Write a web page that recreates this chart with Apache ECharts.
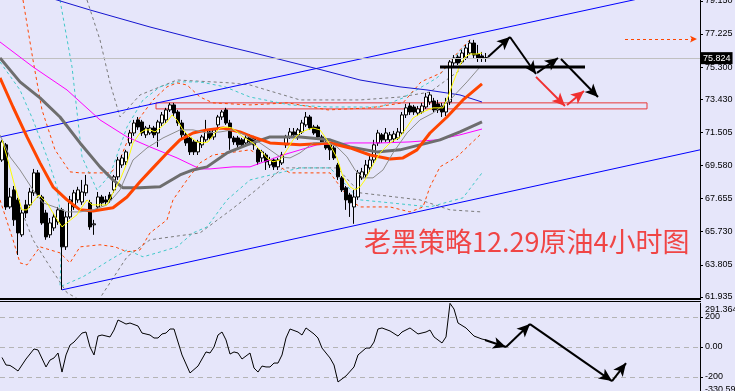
<!DOCTYPE html>
<html><head><meta charset="utf-8">
<script src="https://cdn.jsdelivr.net/npm/echarts@6/dist/echarts.min.js"></script>
<style>html,body{margin:0;padding:0;background:#E6E6FA;}#c{width:735px;height:391px;}</style>
</head><body><div id="c"></div>
<script>
// ---------- DATA ----------
const slots = 175; // bar slots across the chart (future slots empty)
const categories = Array.from({length: slots}, (_, i) => 'B' + i);
const openP = [69.90,70.78,67.17,68.16,67.58,65.55,67.29,67.29,67.99,69.15,
67.75,66.82,65.55,65.95,66.30,67.00,64.85,66.59,67.17,67.58,
67.46,67.99,67.41,66.13,67.17,67.75,67.58,67.87,68.16,68.92,
69.61,69.79,70.89,71.47,72.23,72.11,71.36,71.47,71.76,71.47,
72.05,72.23,72.81,73.10,72.69,72.05,71.36,71.18,70.95,70.37,
70.78,71.07,71.53,71.24,71.94,72.40,72.81,72.05,71.18,71.18,
71.07,70.89,71.24,71.18,70.49,70.02,70.19,69.61,69.90,69.50,
69.73,70.78,71.24,71.53,71.36,71.53,71.94,72.40,71.82,71.82,
71.24,70.89,70.78,70.60,69.61,68.86,68.28,67.87,67.17,67.75,
68.86,69.03,69.44,69.90,70.89,71.36,71.07,71.07,71.12,71.18,
71.47,72.52,73.04,72.98,72.63,72.69,72.98,73.27,73.33,73.16,
73.04,72.69,73.27,75.54,75.89,75.60,75.83,76.12,76.70,76.06,
75.95,75.85];
const closeP = [70.95,67.17,67.75,66.42,65.66,66.82,66.82,68.04,69.15,67.87,
66.24,65.43,66.24,66.59,67.00,64.85,66.59,67.58,67.99,68.16,
68.04,68.45,66.01,66.19,67.75,67.41,67.46,67.58,68.92,69.90,
70.02,70.37,71.47,72.05,71.82,71.47,71.76,71.76,71.36,72.11,
72.52,72.81,73.10,72.63,72.05,71.36,70.89,70.37,70.37,70.95,
71.24,71.65,71.18,71.65,72.40,72.69,72.05,71.18,70.95,70.78,
70.78,71.18,70.95,70.78,69.79,70.37,69.79,69.90,69.50,69.90,
70.19,71.24,71.53,71.36,71.65,72.05,72.40,71.76,71.47,71.24,
70.89,70.60,70.49,70.02,68.92,68.16,67.58,67.41,67.75,69.15,
69.21,69.61,69.90,70.78,71.47,71.07,71.47,71.36,71.41,71.53,
72.52,72.93,72.69,72.69,72.87,73.04,73.56,73.68,72.81,72.81,
72.69,73.22,75.60,75.83,75.54,76.12,76.41,76.70,76.00,75.83,
75.83,75.824];
const highP = [71.07,70.89,68.28,68.39,67.70,67.00,67.58,68.28,69.38,69.32,
67.87,67.00,66.53,66.82,67.17,67.12,66.88,67.81,68.16,68.34,
68.74,69.03,67.58,66.42,68.04,67.87,67.81,68.04,69.03,70.08,
70.19,70.49,71.65,72.23,72.40,72.23,71.88,71.94,71.88,72.23,
72.69,72.93,73.22,73.22,72.81,72.23,71.53,71.36,71.07,71.07,
71.36,72.23,71.65,71.76,72.52,72.81,72.93,72.23,71.30,71.30,
71.18,71.36,71.41,71.30,70.60,70.49,70.31,70.08,70.02,70.02,
70.37,71.36,71.76,71.76,71.76,72.23,72.69,72.52,71.94,71.94,
71.36,71.01,70.89,70.72,69.73,68.97,68.39,67.99,68.16,69.32,
69.44,69.90,70.19,71.07,71.65,71.47,71.76,71.53,71.59,71.76,
72.69,73.16,73.22,73.10,73.04,73.22,73.80,73.85,73.51,73.39,
73.22,73.51,75.71,76.00,76.00,76.30,76.59,76.88,76.88,76.59,
76.18,76.12];
const lowP = [69.79,67.00,67.06,66.07,64.38,65.43,66.53,67.12,67.81,67.70,
66.13,65.26,65.37,65.78,66.13,62.35,64.67,66.48,67.00,67.41,
67.29,67.81,65.84,65.55,67.00,67.23,67.29,67.41,67.99,68.74,
69.44,69.61,70.72,71.30,71.65,71.30,71.18,71.36,71.18,70.66,
71.88,72.05,72.69,72.46,71.88,71.18,70.72,70.19,70.19,70.19,
70.60,70.95,71.07,71.07,71.76,72.23,71.94,70.49,70.78,70.60,
70.60,70.72,70.78,70.49,69.61,69.79,69.32,69.44,69.32,69.32,
69.61,70.60,71.12,71.18,71.07,71.41,71.82,71.65,71.36,71.07,
70.78,70.49,69.90,69.90,68.74,68.04,67.00,66.59,66.19,67.58,
68.74,68.86,69.21,69.73,70.72,70.89,70.95,70.89,70.95,71.07,
71.36,72.34,72.52,72.52,72.46,72.58,72.87,73.10,72.69,72.63,
72.40,72.46,73.10,75.37,75.42,75.48,75.71,76.00,75.83,75.60,
75.60,75.60];
const lastPrice = 75.824;

// indicator lines: [bar index, price]
const maYellow = [[0,71.07],[1.25,70.08],[3.25,68.34],[5,67.00],[6.25,67.00],[7.75,67.46],[9.25,67.87],[11.25,67.41],[12.75,66.82],[15,66.01],[16.5,66.30],[18.75,66.71],[20,67.17],[21.25,67.58],[22.5,67.29],[24.5,67.29],[26.25,67.29],[27.75,67.99],[29.5,68.74],[31.25,69.73],[32.75,70.89],[34.5,71.47],[35.75,71.65],[37,71.65],[38.25,71.53],[39.5,71.76],[41.25,72.11],[42.5,72.52],[43.75,72.23],[45.25,71.65],[47,71.24],[48.75,70.95],[50.25,70.89],[51.5,70.95],[53.25,71.47],[54.5,71.76],[56.25,71.82],[57.5,71.76],[58.75,71.53],[60.25,71.24],[62.75,70.89],[64.5,70.49],[66.25,70.02],[67.75,69.79],[69.5,69.90],[71.25,70.49],[72.75,71.07],[74.5,71.47],[76.25,71.65],[77.75,71.76],[79.5,71.65],[80.75,71.24],[82,70.78],[83.75,70.02],[85.25,68.92],[87,68.34],[88.25,68.16],[89.5,68.34],[90.75,68.74],[92,69.32],[94.5,70.31],[97,70.89],[99.5,71.24],[101.25,71.82],[102.75,72.34],[105.25,72.69],[107.75,72.93],[110.25,72.93],[111.5,73.56],[112.75,74.38],[114.5,75.42],[115.75,75.89],[117,76.06],[118.75,76.06],[120,76.12]];
const maThinGrey = [[-0.5,71.36],[2,70.08],[4.5,69.32],[7.75,68.16],[10.25,67.41],[13.75,67.12],[16.25,66.88],[19.5,66.88],[22.75,67.00],[26.25,67.29],[29.5,68.16],[32.75,69.90],[36.25,70.60],[40.25,71.18],[44.5,71.65],[47.75,71.65],[51.25,71.47],[54.5,71.53],[57.75,71.65],[60.75,71.36],[64.5,70.89],[67,70.49],[69.5,70.08],[72,70.02],[74.5,70.31],[77.75,70.89],[81.25,70.95],[83.75,70.66],[86.25,70.08],[88.25,69.32],[90.25,68.86],[92.75,68.86],[95.25,69.32],[97.75,70.31],[101.25,71.47],[104.5,72.23],[107.75,72.63],[112,73.39],[116.25,74.44],[119.5,75.31]];
const maOrange = [[-0.5,74.67],[2.75,72.98],[6.25,71.24],[9.5,69.73],[12.75,68.34],[16.25,67.58],[19.5,67.00],[22.75,66.94],[27.75,67.12],[31.25,67.75],[34.5,68.63],[37.75,69.44],[41.25,70.31],[44.5,71.07],[47.75,71.47],[51.25,71.65],[55.25,71.76],[59.5,71.53],[62,71.30],[67,70.89],[74.5,70.78],[82,70.89],[87,70.60],[92,70.19],[97,69.96],[100.25,70.02],[103.75,70.49],[107,71.47],[111.25,72.40],[115.25,73.39],[120,74.32]];
const maDarkGrey = [[-0.5,75.83],[4.5,74.44],[9.5,73.51],[14.5,72.40],[19.5,70.89],[24.5,69.50],[27.75,68.74],[30.25,68.28],[34.5,68.28],[39.5,68.34],[44.5,69.03],[47.75,69.32],[51.25,69.50],[56.25,70.31],[61.25,70.78],[67,71.24],[74.5,71.24],[82,71.07],[87,70.66],[93.75,70.37],[99.5,70.49],[104.5,70.78],[109.5,71.07],[114.5,71.53],[120,72.11]];
const maMagenta = [[-0.5,76.76],[7.75,75.31],[16.25,73.97],[24.5,72.23],[31.25,71.24],[37,70.66],[43.75,70.02],[49.5,69.38],[52,69.38],[57.75,69.50],[62,69.50],[70.25,70.19],[78.75,70.78],[87,70.89],[94.75,70.89],[102,70.95],[108.75,71.07],[114.5,71.36],[120,71.70]];
const maBlue = [[10,79.45],[13.75,79.2],[22,78.62],[37,77.63],[49.5,76.88],[62,76.18],[80,75.13],[89.5,74.55],[99.5,74.15],[106.25,73.97],[114.5,73.68],[120,73.27]];
const bandOrangeUp = [[5.25,79.2],[7.75,75.71],[10,72.81],[13.25,70.49],[17,69.21],[19.5,69.15],[27,69.15],[28.75,69.50],[32.75,71.82],[37.75,73.39],[41.25,74.15],[43.75,74.38],[46.25,74.26],[49.5,73.56],[52.75,73.22],[62,73.10],[71.5,73.22],[81.5,72.81],[92,72.93],[100.25,73.22],[104.75,74.44],[109.75,74.96],[114.5,76.30],[117.5,77.00]];
const bandOrangeLow = [[-0.5,67.58],[2.75,65.26],[4.5,63.92],[6.25,63.80],[9.5,64.85],[14.5,64.50],[17,63.92],[19.5,64.85],[24.5,64.97],[28.25,64.85],[31.25,64.56],[34.5,64.67],[37,65.66],[41.25,66.42],[42.75,67.58],[46.25,68.74],[49.5,69.73],[52.75,70.19],[62,70.49],[72,69.15],[82,69.15],[87,67.58],[89.5,67.17],[97,67.17],[102,66.88],[105.25,67.17],[107,68.34],[109.5,69.50],[113.75,70.08],[119.5,71.36]];
const bandCyanUp = [[14.5,79.2],[17.5,75.31],[20,70.08],[23.75,68.16],[27,69.03],[31.25,71.82],[35.25,73.39],[39.5,74.15],[43.75,74.44],[49.5,74.44],[55.75,74.15],[62,73.56],[72,73.10],[82,72.98],[94.5,72.98],[100.25,73.51],[108.75,74.67],[117,76.88]];
const bandCyanLow = [[-0.5,75.60],[4.5,73.97],[7.75,72.23],[11.25,70.08],[13.75,68.34],[15,66.0],[14.5,62.53],[20.25,63.11],[27,64.09],[31.25,64.67],[35.25,64.27],[38.75,64.50],[43.75,64.85],[47.75,65.66],[51.25,66.01],[56.25,67.58],[62,68.74],[74.5,69.44],[82,69.44],[89.5,67.58],[97,67.41],[107,67.17],[115.25,67.70],[120,69.15]];
const bandGreyUp = [[21.25,79.2],[24.5,76.88],[27,74.38],[29.5,72.40],[34.5,73.68],[43.75,74.55],[57.25,74.38],[62,74.26],[74.5,73.39],[89.5,73.39],[99.5,73.56],[107,73.85],[114.5,75.13]];
const bandGreyLow = [[4.5,67.17],[7.75,65.26],[12,63.69],[16.25,62.18],[20,61.7],[24,61.7],[27,62.76],[31.25,64.27],[37,65.26],[49.5,65.66],[57.25,67.00],[62,67.87],[70.25,69.44],[83.75,69.44],[89.5,67.99],[104.5,67.58],[112,67.00],[120,66.88]];
const channelUpper = [[-0.5,71.24],[174.5,80.04]];
const channelLower = [[15,62.35],[174.5,70.49]];
const supportLine = [[109.5,75.30],[145.75,75.30]];
const zoneBox = [[38.5,73.22],[161.25,72.87]];
const targetDash = [[155.75,76.93],[173.75,76.93]];
const blackArrows = [[[121.5,75.89],[127,77.05]],[[127,77.05],[133.5,74.90]],[[133.75,74.96],[139,75.83]],[[139.75,75.77],[149,73.56]]];
const redArrows = [[[133.5,74.73],[140.75,73.04]],[[141.25,73.10],[145.5,73.91]]];

const cciPts = [[0,-70],[1,-120],[2,-123],[3,-140],[4,-160],[6,-80],[8,-13],[9,-20],[11,-133],[12,-87],[13,-73],[14,-40],[15,-167],[16,-53],[17,13],[18,33],[20,93],[21,100],[22,0],[23,-53],[24,73],[25,80],[27,67],[28,113],[29,180],[30,167],[31,153],[32,160],[34,140],[35,93],[37,80],[38,60],[39,60],[40,87],[41,93],[42,120],[43,120],[45,-53],[47,-173],[49,-127],[51,-33],[52,-40],[53,0],[54,80],[55,100],[56,47],[57,-47],[58,-33],[59,-40],[60,-80],[61,-60],[62,-40],[63,-140],[64,-167],[65,-127],[66,-133],[67,-133],[68,-107],[69,-107],[70,-53],[71,60],[72,120],[74,100],[75,80],[76,127],[78,87],[79,60],[80,-7],[82,-73],[83,-120],[84,-233],[86,-193],[88,-133],[89,-53],[91,-7],[92,-7],[93,33],[94,120],[95,127],[97,107],[99,73],[100,100],[102,127],[103,107],[104,87],[106,100],[107,113],[108,67],[110,27],[111,67],[112,291],[113,253],[114,160],[116,127],[118,73],[120,53],[121,47]];
const cciArrows = [[[120.75,47],[126,0]],[[126,0],[132,153]],[[132,153],[152.5,-227]],[[152.5,-227],[156,-107]]];
const cciLevels = [200, 0, -200];

const priceTicks = [79.150, 77.225, 75.300, 73.430, 71.505, 69.580, 67.655, 65.730, 63.805, 61.935];
const cciMin = -330.59, cciMax = 291.364;
const cciTicks = [200, 0, -200];
const cciTickText = ['200', '0.00', '-200'];
const cciEdgeTicks = [cciMax, cciMin];
const cciEdgeText = ['291.364', '-330.59'];
const title = '老黑策略12.29原油4小时图';

// ---------- CHART ----------
const chart = echarts.init(document.getElementById('c'), null, {renderer: 'canvas'});
const candles = openP.map((o, i) => [o, closeP[i], lowP[i], highP[i]]);

function lineSeries(data, color, width, type, z) {
  return {type: 'line', xAxisIndex: 1, yAxisIndex: 0, data: data, showSymbol: false, symbol: 'none',
    clip: true, silent: true, z: z || 4,
    lineStyle: {color: color, width: width, type: type || 'solid'}};
}
function arrowPairs(list) {
  return list.map(p => [{coord: p[0], symbol: 'none'}, {coord: p[1], symbol: 'arrow'}]);
}
const axisFont = {color: '#000', fontSize: 9, fontFamily: 'Liberation Sans'};

const option = {
  backgroundColor: '#E6E6FA',
  animation: false,
  grid: [
    {left: 0, right: 35, top: 0, height: 297, outerBoundsMode: 'none', containLabel: false},
    {left: 0, right: 35, top: 303.3, height: 93.3, outerBoundsMode: 'none', containLabel: false}
  ],
  xAxis: [
    {type: 'category', gridIndex: 0, data: categories, boundaryGap: true, show: false},
    {type: 'value', gridIndex: 0, min: -0.5, max: slots - 0.5, show: false},
    {type: 'value', gridIndex: 1, min: -0.5, max: slots - 0.5, show: false}
  ],
  yAxis: [
    {type: 'value', gridIndex: 0, position: 'right', min: 61.935, max: 79.2,
      splitLine: {show: false},
      axisLine: {show: true, onZero: false, lineStyle: {color: '#000', width: 1}},
      axisTick: {show: true, customValues: priceTicks, length: 3, lineStyle: {color: '#000'}},
      axisLabel: Object.assign({customValues: priceTicks, margin: 5, hideOverlap: false, showMinLabel: true, showMaxLabel: true,
        formatter: v => v.toFixed(3)}, axisFont)},
    {type: 'value', gridIndex: 1, position: 'right', min: cciMin, max: cciMax,
      splitLine: {show: false},
      axisLine: {show: true, onZero: false, lineStyle: {color: '#000', width: 1}},
      axisTick: {show: true, customValues: cciTicks, length: 3, lineStyle: {color: '#000'}},
      axisLabel: Object.assign({customValues: cciTicks, margin: 5, hideOverlap: false,
        formatter: v => { const k = cciTicks.findIndex(t => Math.abs(t - v) < 1e-6); return k >= 0 ? cciTickText[k] : ''; }}, axisFont)},
    {type: 'value', gridIndex: 1, position: 'right', min: cciMin, max: cciMax,
      splitLine: {show: false}, axisLine: {show: false}, axisTick: {show: false},
      axisLabel: Object.assign({customValues: cciEdgeTicks, margin: 5, hideOverlap: false, showMinLabel: true, showMaxLabel: true,
        rich: {
          top: {fontSize: 9, fontFamily: 'Liberation Sans', color: '#000', padding: [13, 0, 0, 0]},
          bot: {fontSize: 9, fontFamily: 'Liberation Sans', color: '#000', padding: [0, 0, 14, 0]}
        },
        formatter: v => {
          const k = cciEdgeTicks.findIndex(t => Math.abs(t - v) < 1e-6);
          if (k < 0) return '';
          return (k === 0 ? '{top|' : '{bot|') + cciEdgeText[k] + '}';
        }}, axisFont)}
  ],
  series: [
    lineSeries(bandGreyUp, '#7a7a7a', 1, [3, 3], 2),
    lineSeries(bandGreyLow, '#7a7a7a', 1, [3, 3], 2),
    lineSeries(bandCyanUp, '#40C8C8', 1, [3, 3], 2),
    lineSeries(bandCyanLow, '#40C8C8', 1, [3, 3], 2),
    lineSeries(bandOrangeUp, '#FF4500', 1, [3, 3], 2),
    lineSeries(bandOrangeLow, '#FF4500', 1, [3, 3], 2),
    lineSeries(channelUpper, '#0000FF', 1, 'solid', 3),
    lineSeries(channelLower, '#0000FF', 1, 'solid', 3),
    lineSeries(maBlue, '#1515D0', 1, 'solid', 3),
    {type: 'candlestick', xAxisIndex: 0, yAxisIndex: 0, data: candles, barWidth: 3, z: 3, silent: true,
      itemStyle: {color: '#FFFFFF', color0: '#000000', borderColor: '#000000', borderColor0: '#000000', borderWidth: 1},
      markLine: {silent: true, symbol: 'none', animation: false,
        data: [{yAxis: lastPrice}],
        lineStyle: {color: '#C0C0C0', width: 1, type: 'solid'},
        label: {show: true, position: 'end', distance: 1, formatter: lastPrice.toFixed(3), color: '#fff', backgroundColor: '#000',
          fontSize: 9, fontFamily: 'Liberation Sans', padding: [2, 2, 1, 2]}}},
    lineSeries(maMagenta, '#FF00FF', 1, 'solid', 5),
    lineSeries(maDarkGrey, '#6E6E6E', 3, 'solid', 5),
    lineSeries(maOrange, '#FF4500', 3, 'solid', 5),
    lineSeries(maThinGrey, '#8C8C8C', 1, 'solid', 6),
    lineSeries(maYellow, '#FFFF00', 1, 'solid', 6),
    Object.assign(lineSeries(supportLine, '#000000', 3, 'solid', 8), {
      markArea: {silent: true, data: [[{coord: zoneBox[0]}, {coord: zoneBox[1]}]],
        itemStyle: {color: 'rgba(0,0,0,0)', borderColor: '#E83838', borderWidth: 1}},
      markLine: {silent: true, animation: false, symbolSize: [9, 13], label: {show: false},
        data: [].concat(
          arrowPairs(blackArrows).map(d => { d[0].lineStyle = {color: '#000', width: 2, type: 'solid'}; d[1].itemStyle = {color: '#000'}; return d; }),
          arrowPairs(redArrows).map(d => { d[0].lineStyle = {color: '#F03030', width: 2, type: 'solid'}; d[1].itemStyle = {color: '#F03030'}; return d; }),
          [[{coord: targetDash[0], symbol: 'none', lineStyle: {color: '#FF4500', width: 1, type: [3, 3]}}, {coord: targetDash[1], symbol: 'arrow', symbolSize: [5, 7], itemStyle: {color: '#FF4500'}}]]
        )}}),
    {type: 'line', xAxisIndex: 2, yAxisIndex: 1, data: cciPts, showSymbol: false, symbol: 'none', silent: true, z: 5,
      lineStyle: {color: '#000', width: 1},
      markLine: {silent: true, animation: false, symbol: 'none', label: {show: false},
        lineStyle: {color: '#B4B4B4', width: 1, type: [5, 4]},
        data: cciLevels.map(v => ({yAxis: v}))}},
    {type: 'line', xAxisIndex: 2, yAxisIndex: 1, data: [cciArrows[0][1]], showSymbol: false, symbol: 'none', silent: true, z: 8,
      lineStyle: {opacity: 0},
      markLine: {silent: true, animation: false, symbolSize: [9, 13], label: {show: false},
        lineStyle: {color: '#000', width: 2, type: 'solid'}, itemStyle: {color: '#000'},
        data: arrowPairs(cciArrows)}}
  ],
  graphic: [
    {type: 'rect', shape: {x: 0, y: 298, width: 701, height: 2}, style: {fill: '#000'}, silent: true, z: 100},
    {type: 'rect', shape: {x: 0, y: 301, width: 701, height: 1}, style: {fill: '#000'}, silent: true, z: 100},
    {type: 'text', x: 364, y: 228, silent: true, z: 100,
      style: {text: title, fill: '#F04545', font: '27px "Noto Sans CJK SC"'}}
  ]
};
chart.setOption(option);
</script>
</body></html>
